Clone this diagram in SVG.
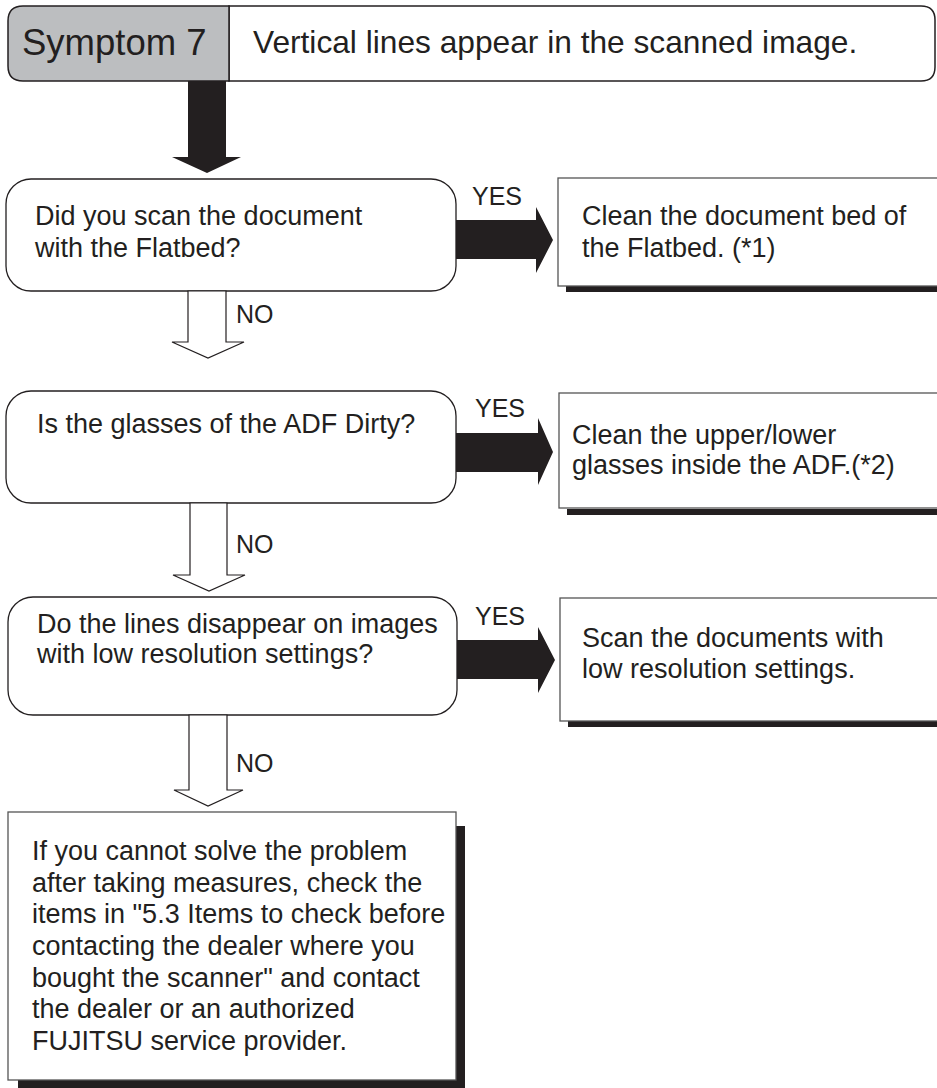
<svg xmlns="http://www.w3.org/2000/svg" width="937" height="1088" viewBox="0 0 937 1088">
<style>
text{font-family:"Liberation Sans",Arial,Helvetica,sans-serif;fill:#231f20}
.t27{font-size:27px}
.lbl{font-size:25px}
.rbox{fill:#fff;stroke:#231f20;stroke-width:1.3}
.sbox{fill:#fff;stroke:#555;stroke-width:1.3}
.shadow{fill:#231f20}
.solid{fill:#231f20;stroke:none}
.hollow{fill:#fff;stroke:#231f20;stroke-width:1.2}
</style>
<rect width="937" height="1088" fill="#fff"/>
<g id="header">
<path d="M229,6 H921 Q935,6 935,20 V67 Q935,81 921,81 H229 Z" fill="#fff" stroke="#231f20" stroke-width="1.5"/>
<path d="M229,6 H23 Q8,6 8,21 V66 Q8,81 23,81 H229 Z" fill="#bcbec0" stroke="#231f20" stroke-width="1.5"/>
<text x="22" y="55" style="font-size:36.5px">Symptom 7</text>
<text x="253" y="53" style="font-size:31.7px">Vertical lines appear in the scanned image.</text>
</g>
<g id="q1">
<rect class="rbox" x="6" y="179" width="450" height="112" rx="25"/>
<text class="t27" x="35" y="225">Did you scan the document</text>
<text class="t27" x="35" y="257">with the Flatbed?</text>
</g>
<g id="a1">
<rect class="shadow" x="566" y="286" width="375" height="6"/>
<rect class="sbox" x="558" y="178" width="385" height="108"/>
<text class="t27" x="582" y="225">Clean the document bed of</text>
<text class="t27" x="582" y="257">the Flatbed. (*1)</text>
</g>
<g id="q2">
<rect class="rbox" x="6" y="391" width="450" height="112" rx="25"/>
<text class="t27" x="37" y="433">Is the glasses of the ADF Dirty?</text>
</g>
<g id="a2">
<rect class="shadow" x="567" y="509" width="375" height="6"/>
<rect class="sbox" x="559" y="393" width="385" height="115"/>
<text class="t27" x="572" y="444">Clean the upper/lower</text>
<text class="t27" x="572" y="474">glasses inside the ADF.(*2)</text>
</g>
<g id="q3">
<rect class="rbox" x="8" y="597" width="449" height="118" rx="25"/>
<text class="t27" x="37" y="633">Do the lines disappear on images</text>
<text class="t27" x="37" y="663">with low resolution settings?</text>
</g>
<g id="a3">
<rect class="shadow" x="568" y="721" width="375" height="6"/>
<rect class="sbox" x="560" y="598" width="385" height="123"/>
<text class="t27" x="582" y="647">Scan the documents with</text>
<text class="t27" x="582" y="678">low resolution settings.</text>
</g>
<g id="final">
<path class="shadow" d="M456,826 H465 V1088 H18 V1080 H456 Z"/>
<rect class="sbox" x="8" y="812" width="448" height="268"/>
<text class="t27" x="32" y="860">If you cannot solve the problem</text>
<text class="t27" x="32" y="892">after taking measures, check the</text>
<text class="t27" x="32" y="923">items in "5.3 Items to check before</text>
<text class="t27" x="32" y="955">contacting the dealer where you</text>
<text class="t27" x="32" y="987">bought the scanner" and contact</text>
<text class="t27" x="32" y="1018">the dealer or an authorized</text>
<text class="t27" x="32" y="1050">FUJITSU service provider.</text>
</g>
<g id="connectors">
<polygon class="solid" points="188,81 226,81 226,157 241,157 207,173 172,157 188,157"/>
<polygon class="solid" points="456,220 536,220 536,207 553,240 536,273 536,259 456,259"/>
<polygon class="solid" points="456,433 538,433 538,418 553,452 538,485 538,472 456,472"/>
<polygon class="solid" points="457,640 538,640 538,627 555,660 538,693 538,679 457,679"/>
<polygon class="hollow" points="188,291 226,291 226,342 244,342 208,358 172,342 188,342"/>
<polygon class="hollow" points="190,503 227,503 227,575 245,575 209,591 173,575 190,575"/>
<polygon class="hollow" points="189,715 227,715 227,790 243,790 208,806 174,790 189,790"/>
<text class="lbl" x="472" y="205">YES</text>
<text class="lbl" x="475" y="417">YES</text>
<text class="lbl" x="475" y="625">YES</text>
<text class="lbl" x="236" y="323">NO</text>
<text class="lbl" x="236" y="553">NO</text>
<text class="lbl" x="236" y="772">NO</text>
</g>
</svg>
